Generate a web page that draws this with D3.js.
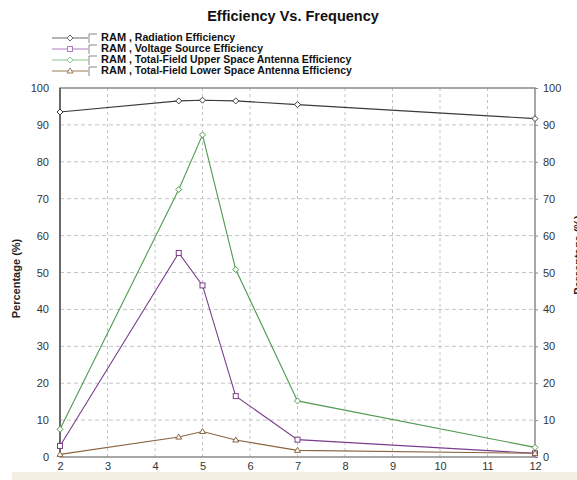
<!DOCTYPE html>
<html>
<head>
<meta charset="utf-8">
<script src="https://cdn.jsdelivr.net/npm/d3@7"></script>
<style>
  body { margin: 0; background: #fff; }
  text { font-family: "Liberation Sans", Arial, sans-serif; }
</style>
</head>
<body>
<div id="chart"></div>
<script>
// frequency points
const freqs = [2, 4.5, 5, 5.7, 7, 12];

const radiation = [93.5, 96.5, 96.7, 96.5, 95.5, 91.7];
const voltageSource = [3.0, 55.3, 46.5, 16.5, 4.7, 1.0];
const upperSpace = [7.5, 72.5, 87.3, 50.8, 15.2, 2.6];
const lowerSpace = [0.7, 5.4, 6.9, 4.6, 1.8, 1.0];

const xTicks = [2, 3, 4, 5, 6, 7, 8, 9, 10, 11, 12];
const yTicks = [0, 10, 20, 30, 40, 50, 60, 70, 80, 90, 100];

const seriesNames = [
  "Radiation Efficiency",
  "Voltage Source Efficiency",
  "Total-Field Upper Space Antenna Efficiency",
  "Total-Field Lower Space Antenna Efficiency"
];

const W = 577, H = 480;
const margin = { left: 60, right: 42, top: 88, bottom: 23 };

const series = [
  { name: seriesNames[0], values: radiation, color: "#3a3a3a", legendColor: "#6a6a6a", marker: "diamond" },
  { name: seriesNames[1], values: voltageSource, color: "#7a3d8c", legendColor: "#b27cc4", marker: "square" },
  { name: seriesNames[2], values: upperSpace, color: "#4f9a4f", legendColor: "#8cc48c", marker: "diamond" },
  { name: seriesNames[3], values: lowerSpace, color: "#8a6440", legendColor: "#9c7c58", marker: "triangle" }
];

const svg = d3.select("#chart")
  .append("svg")
  .attr("width", W)
  .attr("height", H);

// beige strip at bottom
svg.append("rect")
  .attr("x", 12).attr("y", 472)
  .attr("width", W - 12).attr("height", 8)
  .attr("fill", "#f3efe2");

const x = d3.scaleLinear().domain([2, 12]).range([margin.left, W - margin.right]);
const y = d3.scaleLinear().domain([0, 100]).range([H - margin.bottom - 0, margin.top]);

// grid
const grid = svg.append("g");
grid.selectAll(".vg")
  .data(xTicks.slice(1, -1))
  .enter()
  .append("line")
  .attr("x1", d => x(d)).attr("x2", d => x(d))
  .attr("y1", y(100)).attr("y2", y(0))
  .style("stroke", "#c4c4c4")
  .style("stroke-dasharray", "3,3");
grid.selectAll(".hg")
  .data(yTicks.slice(1, -1))
  .enter()
  .append("line")
  .attr("x1", x(2)).attr("x2", x(12))
  .attr("y1", d => y(d)).attr("y2", d => y(d))
  .style("stroke", "#c4c4c4")
  .style("stroke-dasharray", "4,3");

// frame
svg.append("rect")
  .attr("x", x(2)).attr("y", y(100))
  .attr("width", x(12) - x(2)).attr("height", y(0) - y(100))
  .attr("fill", "none")
  .style("stroke", "#8a8a8a")
  .style("stroke-width", 1.5);
svg.append("line")
  .attr("x1", x(2)).attr("x2", x(2))
  .attr("y1", y(100)).attr("y2", y(0))
  .style("stroke", "#555")
  .style("stroke-width", 1.5);

// axes
const axisLeft = d3.axisLeft(y).tickValues(yTicks).tickSize(0).tickPadding(11);
const axisRight = d3.axisRight(y).tickValues(yTicks).tickSize(3).tickPadding(5);
const axisBottom = d3.axisBottom(x).tickValues(xTicks).tickSize(0).tickPadding(5);

function styleAxis(g) {
  g.select(".domain").remove();
  g.selectAll(".tick line").style("stroke", "#8a8a8a");
  g.selectAll("text")
    .style("font-size", "11px")
    .style("fill", "#333");
}

svg.append("g")
  .attr("transform", `translate(${x(2)},0)`)
  .call(axisLeft)
  .call(styleAxis);
svg.append("g")
  .attr("transform", `translate(${x(12)},0)`)
  .call(axisRight)
  .call(styleAxis);
svg.append("g")
  .attr("transform", `translate(0,${y(0)})`)
  .call(axisBottom)
  .call(styleAxis);

// axis titles
svg.append("text")
  .attr("transform", `translate(20,${(y(0) + y(100)) / 2 + 6}) rotate(-90)`)
  .attr("text-anchor", "middle")
  .style("font-size", "11px")
  .style("font-weight", "bold")
  .style("fill", "#222")
  .text("Percentage (%)");
// right title is clipped by the window edge, as in the original
svg.append("text")
  .attr("transform", `translate(582,255) rotate(-90)`)
  .attr("text-anchor", "middle")
  .style("font-size", "11px")
  .style("font-weight", "bold")
  .style("fill", "#222")
  .text("Percentage (%)");

// title
svg.append("text")
  .attr("x", 293).attr("y", 21)
  .attr("text-anchor", "middle")
  .style("font-size", "14.5px")
  .style("font-weight", "bold")
  .style("fill", "#111")
  .text("Efficiency Vs. Frequency");

function drawMarker(g, type, cx, cy, color) {
  if (type === "diamond") {
    g.append("path")
      .attr("d", `M${cx},${cy - 3}L${cx + 3},${cy}L${cx},${cy + 3}L${cx - 3},${cy}Z`)
      .attr("fill", "#fff").style("stroke", color);
  } else if (type === "square") {
    g.append("rect")
      .attr("x", cx - 2.5).attr("y", cy - 2.5)
      .attr("width", 5).attr("height", 5)
      .attr("fill", "#fff").style("stroke", color);
  } else {
    g.append("path")
      .attr("d", `M${cx},${cy - 3}L${cx + 3},${cy + 2}L${cx - 3},${cy + 2}Z`)
      .attr("fill", "#fff").style("stroke", color);
  }
}

// series
const line = d3.line().x(d => x(d[0])).y(d => y(d[1]));
const plot = svg.append("g");
series.forEach(s => {
  const pts = freqs.map((f, i) => [f, s.values[i]]);
  plot.append("path")
    .datum(pts)
    .attr("d", line)
    .attr("fill", "none")
    .style("stroke", s.color)
    .style("stroke-width", 1.1);
  pts.forEach(p => drawMarker(plot, s.marker, x(p[0]), y(p[1]), s.color));
});

// legend
const legend = svg.append("g");
series.forEach((s, i) => {
  const ly = 38 + i * 11;
  legend.append("line")
    .attr("x1", 52).attr("x2", 88)
    .attr("y1", ly).attr("y2", ly)
    .style("stroke", s.legendColor)
    .style("stroke-width", 1.2);
  drawMarker(legend, s.marker, 70, ly, s.legendColor);
  legend.append("path")
    .attr("d", `M89,${ly + 5}V${ly - 4}H97`)
    .attr("fill", "none")
    .style("stroke", "#888");
  const t = legend.append("text")
    .attr("x", 101).attr("y", ly + 3)
    .style("font-weight", "bold")
    .style("fill", "#111");
  t.append("tspan").style("font-size", "11px").text("RAM");
  t.append("tspan").style("font-size", "10.5px").text(" , " + s.name);
});
</script>
</body>
</html>
